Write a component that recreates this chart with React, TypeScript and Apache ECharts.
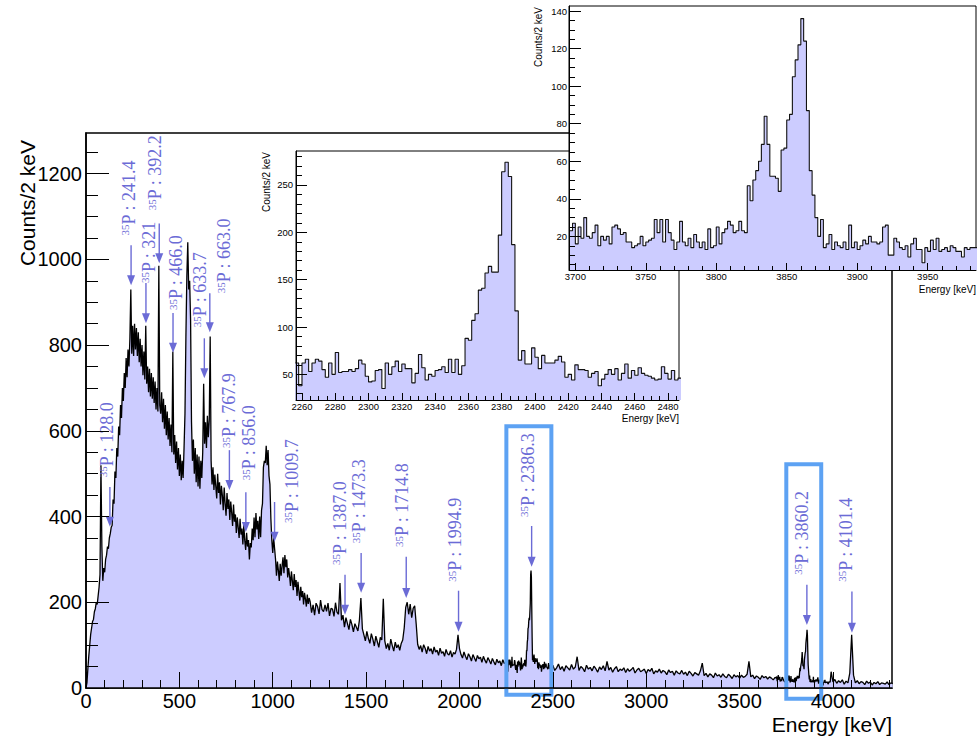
import React, { useEffect, useRef } from "react";
import * as echarts from "echarts";

// ---------- full spectrum, counts per 2 keV (sampled along the energy axis) ----------
const SEG_A_START = 0;
const SEG_A_STEP = 5;
const SEG_A = [
  0, 12, 45, 75, 100, 125, 140, 155, 160, 178,
  185, 200, 195, 215, 235, 265, 520, 330, 250, 280,
  270, 300, 310, 330, 325, 350, 360, 375, 380, 440,
  430, 505, 490, 560, 540, 610, 590, 660, 630, 700,
  670, 735, 700, 770, 725, 790, 750, 815, 930, 780,
  845, 775, 850, 790, 840, 775, 830, 760, 815, 750,
  800, 730, 785, 720, 845, 710, 750, 690, 745, 680,
  735, 675, 725, 665, 715, 650, 700, 645, 985, 660,
  640, 690, 620, 675, 605, 660, 590, 645, 580, 630,
  565, 615, 550, 785, 545, 590, 525, 575, 510, 560,
  495, 545, 485, 530, 490, 560, 640, 820, 960, 1040,
  930, 950, 860, 620, 530, 580, 500, 560, 480, 545,
  470, 540, 465, 530, 490, 550, 710, 570, 620, 560,
  635, 585, 625, 820, 530, 475, 515, 462, 498, 470,
  442, 500, 455, 480, 428, 472, 450, 415, 468, 430,
  402, 455, 418, 440, 392, 435, 410, 378, 428, 388,
  405, 362, 398, 375, 350, 395, 358, 372, 335, 380,
  345, 322, 362, 330, 345, 300, 338, 328, 372, 345,
  398, 352, 408, 370, 390, 348, 400, 352, 415, 430,
  515, 530, 525, 565, 520, 555, 495, 475, 395, 345,
  315, 350, 325, 300, 262, 295, 275, 250, 290, 262,
  285, 305, 268, 310, 282, 300, 258, 280, 262, 238,
  272, 250, 228, 266, 236, 252, 215, 248, 226, 204,
  236, 212, 226, 195, 222, 208, 190, 218, 196, 210,
];
const SEG_B_START = 1200;
const SEG_B_STEP = 8;
const SEG_B = [
  202, 176, 194, 170, 198, 190, 173, 205, 183, 178,
  194, 179, 198, 168, 186, 184, 167, 199, 177, 172,
  245, 158, 170, 142, 164, 150, 136, 160, 148, 131,
  150, 142, 133, 158, 210, 138, 124, 110, 132, 116,
  104, 127, 114, 98, 121, 108, 95, 118, 112, 208,
  110, 92, 104, 88, 114, 99, 86, 107, 94, 101,
  88, 104, 112, 140, 188, 200, 172, 196, 164, 186,
  192, 150, 102, 90, 99, 84, 101, 93, 80, 97,
  86, 92, 79, 96, 84, 88, 76, 93, 81, 85,
  74, 90, 80, 77, 87, 72, 83, 79, 90, 124,
  92, 78, 70, 84, 74, 66, 80, 73, 63, 78,
  70, 62, 76, 68, 72, 60, 74, 65, 58, 71,
  64, 56, 69, 61, 54, 67, 59, 63, 52, 66,
  57, 60,
];
const SEG_C_START = 2490;
const SEG_C_STEP = 10;
const SEG_C = [
  45, 53, 41, 47, 56, 43, 50, 39, 52, 47, 42, 55, 44, 49,
  73,
  41, 50, 46, 38, 53, 44, 48, 40, 51, 45, 37, 49, 43, 52, 40,
  62,
  42, 48, 37, 45, 50, 38, 44, 41, 47, 36,
  45, 39, 43, 48, 35, 42, 46, 38, 41, 44,
  34, 43, 39, 46, 33, 40, 37, 44, 35, 41,
  38, 31, 42, 36, 39, 30, 40, 35, 33, 41,
  32, 37, 29, 39, 34, 28, 36, 33, 30, 40,
  58,
  29, 34, 26, 33, 30, 24, 35, 28, 31, 25, 33, 27, 24, 32, 28, 22, 31, 26, 29, 23, 30, 25, 27, 32,
  62,
  26, 30, 22, 28, 25, 20, 29, 24, 27, 21, 26, 23, 19, 25,
];
const SEG_D_START = 3990;
const SEG_D_STEP = 10;
const SEG_D = [
  38, 14, 20, 11, 17, 13, 19, 9, 16, 12,
  35, 124, 30, 12, 17, 10, 15, 13, 8, 16,
  11, 14, 7, 13, 10, 15, 8, 12, 11, 9,
  14, 8, 12, 10,
];

// ---------- 2 keV bins around the 2386 keV and 3860 keV lines ----------
const BIN_WIDTH = 2;
const ZOOM1_START = 2256;
const ZOOM1_COUNTS = [
  62, 38, 62, 66, 53, 62, 66, 64, 55, 47,
  62, 50, 73, 52, 53, 53, 55, 53, 56, 65,
  61, 48, 42, 43, 54, 55, 35, 62, 50, 58,
  64, 53, 61, 56, 56, 41, 51, 71, 57, 44,
  50, 48, 54, 55, 58, 52, 66, 52, 66, 50,
  59,
  88, 86, 107, 114, 139, 141, 157, 164, 158, 158,
  197, 264, 274, 259, 187, 117, 65,
  75, 61, 61, 78, 68, 56, 70, 62, 62, 62,
  65, 69, 63, 47, 50, 44, 60, 55, 55, 54,
  47, 51, 53, 38, 45, 50, 55, 50, 56, 44,
  51, 61, 46, 54, 49, 57, 51, 49, 48, 46,
  44, 45, 58, 51, 45, 54, 44, 46,
];
const ZOOM2_START = 3696;
const ZOOM2_COUNTS = [
  23, 27, 16, 25, 19, 30, 20, 19, 22, 26,
  15, 20, 18, 20, 16, 25, 26, 24, 21, 22,
  17, 17, 14, 15, 16, 20, 15, 17, 18, 19,
  29, 22, 29, 17, 29, 22, 18, 13, 17, 28,
  17, 15, 19, 14, 21, 17, 14, 17, 13, 24,
  14, 15, 25, 16, 22, 24, 28, 26, 22, 23,
  28, 23, 22,
  47, 39, 50, 55, 60, 69, 84, 69, 52, 52,
  51, 44, 66, 67, 82, 85, 105, 114, 122, 136,
  124, 87,
  55, 42, 30, 20, 29, 14, 16, 21, 13, 17,
  15, 14, 17, 13, 26, 14, 17, 13, 15, 18,
  16, 20, 17, 17, 16, 17, 25, 26, 10, 10,
  19, 17, 14, 13, 15, 9, 16, 19, 13, 13,
  6, 14, 12, 18, 13, 19, 12, 13, 14, 12,
  15, 14, 12, 12, 9, 14, 13, 14, 14, 14,
];

// ---------- identified lines ----------
const PEAK_ENERGY = [128.0, 241.4, 321, 392.2, 466.0, 633.7, 663.0, 767.9, 856.0, 1009.7, 1387.0, 1473.3, 1714.8, 1994.9, 2386.3, 3860.2, 4101.4];
const PEAK_TEXT = ["128.0", "241.4", "321", "392.2", "466.0", "633.7", "663.0", "767.9", "856.0", "1009.7", "1387.0", "1473.3", "1714.8", "1994.9", "2386.3", "3860.2", "4101.4"];
// arrow start / arrow tip (counts), label anchor (keV, counts)
const ARROW_TOP = [469, 1033, 945, 1084, 875, 816, 921, 555, 457, 434, 264, 315, 306, 227, 378, 241, 225];
const ARROW_TIP = [376, 940, 851, 991, 782, 723, 830, 462, 364, 341, 171, 222, 210, 131, 283, 147, 129];
const LABEL_AT = [110, 230, 335, 372, 482, 611, 739, 766, 873, 1101, 1360, 1462, 1693, 1976, 2365, 3832, 4068];
const LABEL_BASE = [492, 1056, 945, 1115, 882, 842, 921, 560, 485, 385, 287, 338, 329, 248, 399, 264, 248];

// highlighted regions: [E from, E to, counts from, counts to]
const HIGHLIGHT = [
  [2251, 2492, -16, 611],
  [3750, 3937, -25, 522],
];

// ---------- axis ranges and tick labels ----------
const MAIN_X_RANGE = [0, 4316];
const MAIN_Y_RANGE = [0, 1295];
const MAIN_X_TICKS = [0, 500, 1000, 1500, 2000, 2500, 3000, 3500, 4000];
const MAIN_Y_TICKS = [0, 200, 400, 600, 800, 1000, 1200];

const Z1_X_RANGE = [2256.4, 2486.6];
const Z1_Y_RANGE = [22.9, 285.9];
const Z1_X_TICKS = [2260, 2280, 2300, 2320, 2340, 2360, 2380, 2400, 2420, 2440, 2460, 2480];
const Z1_Y_TICKS = [50, 100, 150, 200, 250];

const Z2_X_RANGE = [3695.5, 3984.3];
const Z2_Y_RANGE = [2.1, 142.7];
const Z2_X_TICKS = [3700, 3750, 3800, 3850, 3900, 3950];
const Z2_Y_TICKS = [20, 40, 60, 80, 100, 120, 140];

const FILL = "#ccccff";
const MARK = "#6b6bd6";
const BOX = "#5da2f3";
const SANS = '"Liberation Sans", Arial, Helvetica, sans-serif';
const SERIF = '"Liberation Serif", "Times New Roman", Times, serif';

const sampled = (start: number, step: number, vals: number[]) =>
  vals.map((v, i) => [start + i * step, v]);
const binCentres = (start: number, vals: number[]) =>
  vals.map((v, i) => [start + BIN_WIDTH * (i + 0.5), v]);
const histSteps = (start: number, vals: number[]) => [
  ...vals.map((v, i) => [start + BIN_WIDTH * i, v]),
  [start + BIN_WIDTH * vals.length, vals[vals.length - 1]],
];

const MAIN_POINTS = [
  ...sampled(SEG_A_START, SEG_A_STEP, SEG_A),
  ...sampled(SEG_B_START, SEG_B_STEP, SEG_B),
  ...binCentres(ZOOM1_START, ZOOM1_COUNTS),
  ...sampled(SEG_C_START, SEG_C_STEP, SEG_C),
  ...binCentres(ZOOM2_START, ZOOM2_COUNTS),
  ...sampled(SEG_D_START, SEG_D_STEP, SEG_D),
];

function minorValues(range: number[], step: number, majors: number[]) {
  const out: number[] = [];
  const first = Math.ceil(range[0] / step);
  const last = Math.floor(range[1] / step);
  for (let k = first; k <= last; k++) {
    const v = k * step;
    if (!majors.includes(v)) out.push(v);
  }
  return out;
}

type AxisSpec = {
  grid: number;
  range: number[];
  majors: number[];
  minorStep: number;
  majorLen: number;
  minorLen: number;
  fontSize: number;
  margin: number;
  lineWidth: number;
  z: number;
};

function axisPair(dim: "x" | "y", s: AxisSpec) {
  const base = {
    type: "value",
    gridIndex: s.grid,
    min: s.range[0],
    max: s.range[1],
    position: dim === "x" ? "bottom" : "left",
    offset: 0,
    z: s.z,
    splitLine: { show: false },
    silent: true,
  };
  return [
    {
      ...base,
      axisLine: { show: true, onZero: false, lineStyle: { color: "#000", width: s.lineWidth } },
      axisTick: {
        show: true,
        inside: true,
        length: s.majorLen,
        customValues: s.majors,
        lineStyle: { color: "#000", width: 1 },
      },
      axisLabel: {
        show: true,
        customValues: s.majors,
        formatter: (v: number) => String(Math.round(v)),
        fontFamily: SANS,
        fontSize: s.fontSize,
        color: "#000",
        margin: s.margin,
      },
    },
    {
      ...base,
      axisLine: { show: false, onZero: false },
      axisTick: {
        show: true,
        inside: true,
        length: s.minorLen,
        customValues: minorValues(s.range, s.minorStep, s.majors),
        lineStyle: { color: "#000", width: 1 },
      },
      axisLabel: { show: false },
    },
  ];
}

function buildOption() {
  const xAxes = [
    ...axisPair("x", { grid: 0, range: MAIN_X_RANGE, majors: MAIN_X_TICKS, minorStep: 100, majorLen: 16, minorLen: 8, fontSize: 20, margin: 3, lineWidth: 1.5, z: 2 }),
    ...axisPair("x", { grid: 1, range: Z1_X_RANGE, majors: Z1_X_TICKS, minorStep: 5, majorLen: 7, minorLen: 4, fontSize: 9.5, margin: 1, lineWidth: 1, z: 5 }),
    ...axisPair("x", { grid: 2, range: Z2_X_RANGE, majors: Z2_X_TICKS, minorStep: 10, majorLen: 7, minorLen: 4, fontSize: 9.5, margin: 1, lineWidth: 1, z: 8 }),
  ];
  const yAxes = [
    ...axisPair("y", { grid: 0, range: MAIN_Y_RANGE, majors: MAIN_Y_TICKS, minorStep: 50, majorLen: 23, minorLen: 12, fontSize: 20, margin: 4, lineWidth: 1.5, z: 2 }),
    ...axisPair("y", { grid: 1, range: Z1_Y_RANGE, majors: Z1_Y_TICKS, minorStep: 10, majorLen: 11, minorLen: 6, fontSize: 9.5, margin: 3, lineWidth: 1, z: 5 }),
    ...axisPair("y", { grid: 2, range: Z2_Y_RANGE, majors: Z2_Y_TICKS, minorStep: 5, majorLen: 12, minorLen: 6, fontSize: 9.5, margin: 2, lineWidth: 1, z: 8 }),
  ];

  const peakData = PEAK_ENERGY.map((e, i) => [e, ARROW_TOP[i], ARROW_TIP[i], LABEL_AT[i], LABEL_BASE[i]]);

  return {
    animation: false,
    backgroundColor: "#fff",
    grid: [
      { left: 86, top: 133, width: 806, height: 555, show: true, borderColor: "#000", borderWidth: 1.5, backgroundColor: "transparent", z: 0 },
      { left: 296, top: 151, width: 383, height: 249, show: true, borderColor: "#000", borderWidth: 1, backgroundColor: "#fff", z: 3 },
      { left: 569, top: 6, width: 407, height: 264, show: true, borderColor: "#000", borderWidth: 1, backgroundColor: "#fff", z: 6 },
    ],
    xAxis: xAxes,
    yAxis: yAxes,
    series: [
      {
        type: "line",
        name: "spectrum",
        xAxisIndex: 0,
        yAxisIndex: 0,
        data: MAIN_POINTS,
        showSymbol: false,
        symbol: "none",
        silent: true,
        z: 1,
        lineStyle: { color: "#000", width: 1.3 },
        areaStyle: { color: FILL, opacity: 1, origin: "start" },
      },
      {
        type: "line",
        name: "zoom 2386",
        xAxisIndex: 2,
        yAxisIndex: 2,
        data: histSteps(ZOOM1_START, ZOOM1_COUNTS),
        step: "end",
        showSymbol: false,
        symbol: "none",
        silent: true,
        z: 4,
        lineStyle: { color: "#111", width: 1.1 },
        areaStyle: { color: FILL, opacity: 1, origin: "start" },
      },
      {
        type: "line",
        name: "zoom 3860",
        xAxisIndex: 4,
        yAxisIndex: 4,
        data: histSteps(ZOOM2_START, ZOOM2_COUNTS),
        step: "end",
        showSymbol: false,
        symbol: "none",
        silent: true,
        z: 7,
        lineStyle: { color: "#111", width: 1.1 },
        areaStyle: { color: FILL, opacity: 1, origin: "start" },
      },
      {
        type: "custom",
        name: "lines",
        xAxisIndex: 0,
        yAxisIndex: 0,
        clip: false,
        silent: true,
        z: 2,
        data: peakData,
        renderItem: (params: any, api: any) => {
          const i = params.dataIndex;
          const top = api.coord([api.value(0), api.value(1)]);
          const tip = api.coord([api.value(0), api.value(2)]);
          const lab = api.coord([api.value(3), api.value(4)]);
          const hw = 4;
          const hh = 10;
          return {
            type: "group",
            children: [
              {
                type: "line",
                shape: { x1: top[0], y1: top[1], x2: tip[0], y2: tip[1] - hh + 1 },
                style: { stroke: MARK, lineWidth: 1.4 },
              },
              {
                type: "polygon",
                shape: { points: [[tip[0] - hw, tip[1] - hh], [tip[0] + hw, tip[1] - hh], [tip[0], tip[1]]] },
                style: { fill: MARK },
              },
              {
                type: "text",
                x: lab[0],
                y: lab[1],
                rotation: Math.PI / 2,
                style: {
                  text: `{s|35}{b|P : ${PEAK_TEXT[i]}}`,
                  align: "left",
                  verticalAlign: "middle",
                  rich: {
                    s: { fontSize: 11, fontFamily: SERIF, fill: MARK, verticalAlign: "top", lineHeight: 11 },
                    b: { fontSize: 18, fontFamily: SERIF, fill: MARK, lineHeight: 18 },
                  },
                },
              },
            ],
          };
        },
      },
      {
        type: "custom",
        name: "regions",
        xAxisIndex: 0,
        yAxisIndex: 0,
        clip: false,
        silent: true,
        z: 2,
        data: HIGHLIGHT,
        renderItem: (_params: any, api: any) => {
          const p0 = api.coord([api.value(0), api.value(3)]);
          const p1 = api.coord([api.value(1), api.value(2)]);
          return {
            type: "rect",
            shape: { x: p0[0], y: p0[1], width: p1[0] - p0[0], height: p1[1] - p0[1] },
            style: { fill: "none", stroke: BOX, lineWidth: 4 },
          };
        },
      },
    ],
    graphic: [
      { type: "text", z: 10, x: 27, y: 140, rotation: Math.PI / 2, style: { text: "Counts/2 keV", font: `21px ${SANS}`, fill: "#000", align: "right", verticalAlign: "middle" } },
      { type: "text", z: 10, x: 892, y: 724, style: { text: "Energy [keV]", font: `21px ${SANS}`, fill: "#000", align: "right", verticalAlign: "middle" } },
      { type: "text", z: 10, x: 266, y: 152, rotation: Math.PI / 2, style: { text: "Counts/2 keV", font: `10px ${SANS}`, fill: "#000", align: "right", verticalAlign: "middle" } },
      { type: "text", z: 10, x: 679, y: 418, style: { text: "Energy [keV]", font: `10px ${SANS}`, fill: "#000", align: "right", verticalAlign: "middle" } },
      { type: "text", z: 10, x: 538, y: 7, rotation: Math.PI / 2, style: { text: "Counts/2 keV", font: `10px ${SANS}`, fill: "#000", align: "right", verticalAlign: "middle" } },
      { type: "text", z: 10, x: 976, y: 289, style: { text: "Energy [keV]", font: `10px ${SANS}`, fill: "#000", align: "right", verticalAlign: "middle" } },
    ],
  };
}

export default function App() {
  const ref = useRef<HTMLDivElement>(null);
  useEffect(() => {
    if (!ref.current) return;
    const chart = echarts.init(ref.current, undefined, { renderer: "svg" });
    chart.setOption(buildOption() as any);
    return () => chart.dispose();
  }, []);
  return (
    <div
      ref={ref}
      style={{ position: "fixed", left: 0, top: 0, width: 977, height: 738, background: "#fff" }}
    />
  );
}
